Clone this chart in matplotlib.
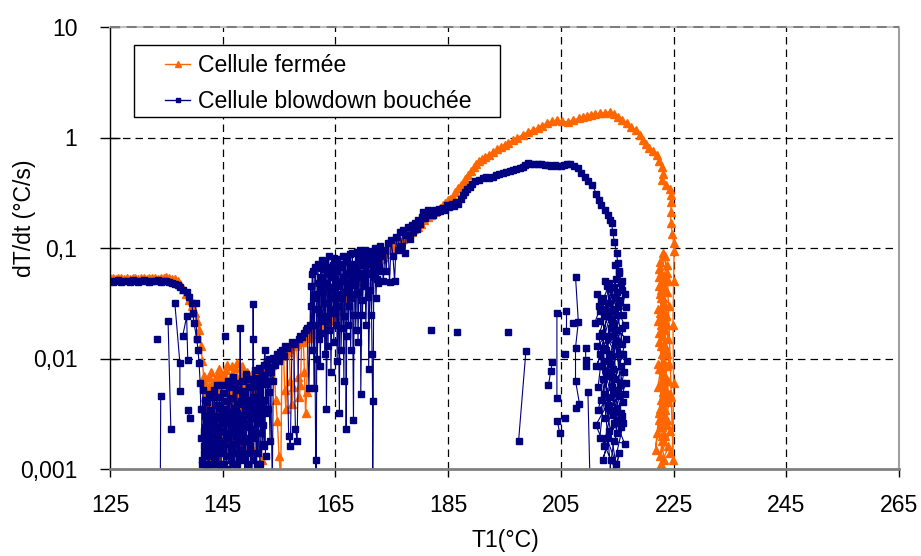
import numpy as np
import matplotlib
matplotlib.use("Agg")
import matplotlib.pyplot as plt
from matplotlib.lines import Line2D
from matplotlib.patches import Rectangle

plt.rcParams['font.family'] = ['Liberation Sans', 'DejaVu Sans']

# ---------------- data: Cellule fermée (orange) ----------------
ferm_flat = [(125.0,0.053),(125.5,0.054),(126.0,0.052),(126.5,0.053),(127.0,0.054),(127.5,0.052),
             (128.0,0.053),(128.5,0.052),(129.0,0.054),(129.5,0.053),(130.0,0.052),(130.5,0.053),
             (131.0,0.054),(131.5,0.052),(132.0,0.053),(132.5,0.054),(133.0,0.053),(133.5,0.052),
             (134.0,0.054),(134.5,0.053),(135.0,0.055),(135.5,0.053),(136.0,0.052),(136.5,0.052)]
ferm_drop = [(137.0,0.050),(137.5,0.047),(138.0,0.043),(138.5,0.038),(139.0,0.034),(139.5,0.030),
             (140.0,0.026),(140.4,0.022),(140.8,0.018),(141.1,0.013),(141.4,0.0095),(141.6,0.007)]
ferm_cloud = [(141.8,0.0045),(142.0,0.0015),(142.2,0.003),(142.4,0.0008),(142.5,0.0025),(142.7,0.0052),
              (142.9,0.0012),(143.1,0.0036),(143.2,0.002),(143.4,0.0062),(143.6,0.0009),(143.8,0.0041),
              (144.0,0.0018),(144.1,0.0072),(144.3,0.0012),(144.5,0.0031),(144.7,0.0066),(144.9,0.0022),
              (145.0,0.0046),(145.2,0.0007),(145.4,0.0038),(145.6,0.0078),(145.8,0.0025),(146.0,0.0051),
              (146.1,0.0015),(146.3,0.0043),(146.5,0.0028),(146.7,0.0085),(146.9,0.0018),(147.0,0.0048),
              (147.2,0.0009),(147.4,0.0035),(147.6,0.0092),(147.8,0.0024),(147.9,0.0056),(148.1,0.0014),
              (148.3,0.0041),(148.5,0.0068),(148.7,0.003),(148.9,0.0055),(149.0,0.0006),(149.2,0.0045),
              (149.4,0.0072),(149.6,0.0035),(149.8,0.006),(150.0,0.0016),(150.2,0.0049),(150.4,0.0076),
              (150.6,0.004),(150.7,0.0065),(150.9,0.0008),(151.1,0.0058),(151.3,0.0079),(151.5,0.0045),
              (151.7,0.0069),(151.9,0.0012),(152.1,0.0075),(152.3,0.0083),(152.6,0.0062),(152.9,0.0086),
              (153.2,0.0092)]
ferm_cloud_b = [(141.7,0.0062),(141.9,0.0035),(142.1,0.0055),(142.3,0.0022),(142.6,0.0068),(142.8,0.0040),
                (143.0,0.0075),(143.3,0.0030),(143.5,0.0058),(143.7,0.0020),(143.9,0.0065),(144.2,0.0045),
                (144.4,0.0080),(144.6,0.0035),(144.8,0.0058),(145.1,0.0026),(145.3,0.0070),(145.5,0.0048),
                (145.7,0.0088),(145.9,0.0038),(146.2,0.0062),(146.4,0.0030),(146.6,0.0072),(146.8,0.0050),
                (147.1,0.0082),(147.3,0.0042),(147.5,0.0064),(147.7,0.0028),(148.0,0.0070),(148.2,0.0052),
                (148.4,0.0085),(148.6,0.0038),(148.8,0.0060),(149.1,0.0032),(149.3,0.0075),(149.5,0.0050)]
ferm_rise = [(153.5,0.0095),(153.8,0.0088),(154.1,0.0098),(154.4,0.0042),(154.7,0.0027),(155.0,0.0013),
             (155.3,0.0008),(155.5,0.0105),(155.8,0.0110),(156.0,0.0052),(156.2,0.0035),(156.5,0.0115),
             (156.8,0.0122),(157.0,0.0062),(157.3,0.0039),(157.5,0.0055),(157.8,0.0130),(158.1,0.0135),
             (158.4,0.0068),(158.6,0.0045),(158.8,0.0058),(159.0,0.0140),(159.3,0.0148),(159.5,0.0075),
             (159.7,0.0032),(159.9,0.0050),(160.1,0.0152),(160.4,0.0160),(160.7,0.0165),(161.0,0.0172),
             (161.3,0.0180),(161.6,0.0178),(161.9,0.0188),(162.2,0.0195),(162.5,0.0200),(162.8,0.0205),
             (163.1,0.0212),(163.4,0.0215),(163.7,0.0220),(164.0,0.0225),(164.3,0.0235),(164.6,0.0240)]
ferm_upper = [(165.0,0.025),(165.5,0.027),(166.0,0.030),(166.5,0.034),(167.0,0.037),(167.5,0.040),
              (168.0,0.043),(168.5,0.046),(169.0,0.049),(169.5,0.053),(170.0,0.057),(170.5,0.061),
              (171.0,0.066),(171.5,0.071),(172.0,0.075),(172.5,0.079),(173.0,0.080),(173.4,0.083),
              (173.8,0.089),(174.2,0.095),(174.6,0.10),(175.0,0.104),(175.5,0.108),(176.0,0.112),
              (176.5,0.116),(177.0,0.12),(177.5,0.128),(178.0,0.135),(178.5,0.141),(179.0,0.148),
              (179.6,0.155),(180.2,0.165),(180.8,0.178),(181.4,0.19),(182.0,0.2),(182.6,0.212),
              (183.1,0.222),(183.5,0.23),(184.0,0.245),(184.5,0.258),(185.0,0.27),(185.4,0.28),
              (185.8,0.29),(186.3,0.32),(186.8,0.35),(187.2,0.37),(187.6,0.39),(188.0,0.42),
              (188.5,0.46),(189.0,0.50),(189.5,0.54),(190.0,0.58),(190.5,0.61),(191.0,0.64),
              (191.5,0.667),(192.2,0.70),(192.9,0.74),(193.6,0.78),(194.3,0.82),(195.0,0.86),
              (195.7,0.90),(196.5,0.95),(197.3,1.0),(198.2,1.06),(199.1,1.12),(200.0,1.17),
              (200.9,1.22),(201.7,1.28),(202.5,1.35),(203.4,1.40),(204.3,1.44),(205.2,1.40),
              (206.2,1.38),(207.2,1.44),(208.3,1.50),(209.0,1.53),(209.7,1.56),(210.4,1.60),
              (211.0,1.63),(211.9,1.65),(212.8,1.68),(213.7,1.70),(214.4,1.62),(215.1,1.53),
              (215.9,1.44),(216.7,1.35),(217.5,1.25),(218.4,1.17),(219.0,1.05),(219.5,0.95),
              (220.1,0.88),(220.7,0.81),(221.3,0.75),(222.0,0.69),(222.5,0.61),(223.0,0.54),
              (223.1,0.47),(223.0,0.41),(223.6,0.37),(224.3,0.34),(224.6,0.30),(224.6,0.26),
              (224.5,0.21),(224.5,0.17),(224.8,0.135),(225.0,0.11),(225.1,0.094)]
ferm_cluster = [(225.0,0.05),(224.9,0.02),(225.0,0.006),(224.9,0.0012),(224.6,0.0045),(223.9,0.06),
                (223.2,0.09),(222.6,0.075),(223.8,0.04),(222.9,0.05),(223.5,0.03),(222.4,0.065),
                (223.9,0.02),(223.1,0.045),(222.7,0.035),(223.6,0.025),(222.5,0.055),(224.1,0.015),
                (223.0,0.03),(222.8,0.042),(223.4,0.018),(222.3,0.028),(223.7,0.012),(223.2,0.022),
                (222.6,0.038),(224.2,0.009),(223.0,0.016),(222.9,0.025),(223.5,0.007),(222.4,0.014),
                (223.8,0.011),(223.1,0.006),(222.7,0.02),(223.3,0.0045),(222.2,0.009),(224.0,0.004),
                (223.6,0.0065),(222.8,0.013),(223.1,0.003),(222.5,0.008),(223.9,0.0025),(223.2,0.005),
                (222.6,0.0035),(223.4,0.002),(222.9,0.006),(221.8,0.0015),(222.5,0.0028),(223.3,0.0012),
                (222.1,0.0009),(224.1,0.0016),(223.0,0.002),(222.7,0.0011),(224.3,0.0014)]
ferm_cluster_b = [(223.5,0.085),(222.8,0.06),(223.9,0.07),(222.5,0.045),(223.2,0.035),(224.0,0.05),
                  (222.3,0.022),(223.6,0.055),(222.9,0.018),(223.3,0.04),(222.6,0.026),(224.2,0.03),
                  (223.0,0.011),(222.4,0.017),(223.7,0.024),(222.8,0.008),(223.4,0.013),(222.2,0.0055),
                  (223.9,0.0085),(222.7,0.0042),(223.2,0.0095),(222.5,0.0032),(223.6,0.0052),(222.9,0.0024),
                  (224.1,0.0062),(223.0,0.0018),(222.6,0.0013),(224.4,0.0022),(223.5,0.0034),(222.1,0.0021),
                  (224.3,0.0048),(223.8,0.0028)]

# ---------------- data: Cellule blowdown bouchée (navy) ----------------
blow_flat = [(125.0,0.050),(125.5,0.049),(126.0,0.050),(126.5,0.051),(127.0,0.049),(127.5,0.050),
             (128.0,0.050),(128.5,0.049),(129.0,0.051),(129.5,0.050),(130.0,0.049),(130.5,0.050),
             (131.0,0.051),(131.5,0.050),(132.0,0.049),(132.5,0.050),(133.0,0.050),(133.5,0.051),
             (134.0,0.049),(134.5,0.050),(135.0,0.050),(135.5,0.049),(136.0,0.048)]
blow_drop = [(136.5,0.047),(137.0,0.046),(137.5,0.044),(138.0,0.042),(138.6,0.040),(139.0,0.036),
             (139.5,0.032),(139.7,0.026),(139.9,0.021),(140.4,0.015),(140.6,0.012),(140.8,0.0092),
             (141.0,0.006),(141.1,0.0035)]
blow_cloud = [(141.3,0.0035),(141.4,0.0012),(141.6,0.0022),(141.8,0.0006),(141.9,0.0042),(142.1,0.0015),
              (142.3,0.0028),(142.4,0.0009),(142.6,0.0048),(142.8,0.0018),(143.0,0.0032),(143.1,0.0007),
              (143.3,0.0025),(143.5,0.0052),(143.7,0.0013),(143.9,0.0038),(144.0,0.0021),(144.2,0.0009),
              (144.4,0.0045),(144.6,0.0016),(144.8,0.0058),(145.0,0.0027),(145.2,0.0011),(145.5,0.0035),
              (145.7,0.0019),(145.9,0.0062),(146.1,0.0030),(146.3,0.0008),(146.5,0.0044),(146.7,0.0024),
              (146.9,0.0068),(147.1,0.0036),(147.3,0.0014),(147.5,0.0052),(147.7,0.0029),(147.9,0.0007),
              (148.1,0.019),(148.2,0.0041),(148.4,0.0063),(148.6,0.0022),(148.8,0.0048),(149.0,0.0012),
              (149.2,0.0072),(149.4,0.0038),(149.6,0.0055),(149.8,0.0019),(150.0,0.0065),(150.2,0.0009),
              (150.4,0.031),(150.45,0.015),(150.5,0.0045),(150.7,0.0078),(150.9,0.0033),(151.1,0.0058),
              (151.3,0.0014),(151.5,0.0082),(151.7,0.0048),(151.9,0.0068),(152.1,0.0025),(152.3,0.0088),
              (152.5,0.012),(152.7,0.0062),(152.9,0.0090),(153.1,0.0035),(153.3,0.0098),(153.5,0.0075),
              (153.8,0.0007),(154.0,0.0102),(154.3,0.0088),(154.6,0.011),(154.9,0.0095),(155.2,0.0115),
              (155.5,0.012),(155.8,0.0105),(156.1,0.013),(156.4,0.0125),(156.7,0.0020),(157.0,0.0016),
              (157.3,0.014),(157.6,0.0135),(157.9,0.0023),(158.2,0.0018),(158.5,0.015),(158.8,0.016),
              (159.1,0.0155),(159.4,0.017),(159.7,0.018),(160.0,0.019),(160.3,0.0054),(160.5,0.020)]
blow_cloud_b = [(141.2,0.0019),(141.5,0.0052),(141.7,0.0014),(141.9,0.0030),(142.0,0.0010),(142.2,0.0040),
                (142.4,0.0021),(142.5,0.0013),(142.7,0.0034),(142.9,0.0026),(143.0,0.0016),(143.2,0.0045),
                (143.4,0.0011),(143.6,0.0029),(143.8,0.0019),(143.9,0.0058),(144.1,0.0024),(144.3,0.0015),
                (144.5,0.0036),(144.7,0.0010),(144.9,0.0031),(145.1,0.0049),(145.3,0.0017),(145.5,0.0026),
                (145.6,0.0013),(145.8,0.0041),(146.0,0.0021),(146.2,0.0055),(146.4,0.0012),(146.6,0.0033),
                (146.8,0.0017),(147.0,0.0027),(147.2,0.0060),(147.4,0.0020),(147.6,0.0011),(147.8,0.0039),
                (148.0,0.0025),(148.3,0.0015),(148.5,0.0051),(148.7,0.0031),(148.9,0.0009),(149.1,0.0042),
                (149.3,0.0026),(149.5,0.0065),(149.7,0.0014),(149.9,0.0037),(150.1,0.0023),(150.3,0.0056),
                (150.6,0.0019),(150.8,0.0044),(151.0,0.0011),(151.2,0.0066),(151.4,0.0030),(151.6,0.0053),
                (151.8,0.0021),(152.0,0.0071),(152.2,0.0040),(152.4,0.0016),(152.6,0.0059),(152.8,0.0032),
                (153.0,0.0075),(153.2,0.0050),(153.4,0.0018),(153.6,0.0084),(153.9,0.0062)]
blow_cloud_c = [(141.3,0.0011),(141.6,0.0016),(141.8,0.0024),(142.0,0.0013),(142.3,0.0019),(142.6,0.0011),
                (142.8,0.0027),(143.1,0.0015),(143.3,0.0021),(143.6,0.0012),(143.8,0.0017),(144.1,0.0030),
                (144.3,0.0011),(144.6,0.0022),(144.8,0.0014),(145.1,0.0018),(145.4,0.0026),(145.6,0.0010),
                (145.9,0.0020),(146.1,0.0013),(146.4,0.0029),(146.6,0.0015),(146.9,0.0011),(147.1,0.0023),
                (147.4,0.0017),(147.6,0.0032),(147.9,0.0012),(148.1,0.0020),(148.4,0.0026),(148.6,0.0013),
                (148.9,0.0018),(149.1,0.0034),(149.4,0.0011),(149.6,0.0024),(149.9,0.0016),(150.1,0.0029),
                (150.4,0.0012),(150.6,0.0021),(150.9,0.0038),(151.1,0.0014),(151.4,0.0026),(151.6,0.0011),
                (151.9,0.0032),(152.1,0.0017),(152.4,0.0042),(152.6,0.0013)]
blow_bigcloud = [(160.6,0.045),(160.8,0.012),(161.0,0.062),(161.2,0.0054),(161.3,0.038),(161.5,0.0012),
                 (161.6,0.0005),(161.7,0.028),(161.9,0.072),(162.0,0.015),(162.2,0.055),(162.3,0.0085),
                 (162.5,0.040),(162.6,0.078),(162.8,0.022),(163.0,0.065),(163.1,0.011),(163.3,0.048),
                 (163.4,0.0035),(163.6,0.032),(163.8,0.085),(163.9,0.018),(164.1,0.058),(164.2,0.0075),
                 (164.4,0.042),(164.6,0.070),(164.7,0.014),(164.9,0.052),(165.0,0.026),(165.2,0.080),
                 (165.3,0.0095),(165.5,0.045),(165.7,0.0032),(165.8,0.035),(166.0,0.068),(166.1,0.019),
                 (166.3,0.055),(166.5,0.0062),(166.6,0.040),(166.8,0.075),(166.9,0.0023),(167.0,0.016),
                 (167.2,0.060),(167.4,0.030),(167.5,0.088),(167.7,0.012),(167.9,0.050),(168.0,0.072),
                 (168.2,0.0028),(168.3,0.025),(168.5,0.065),(168.7,0.038),(168.9,0.092),(169.0,0.014),
                 (169.2,0.055),(169.4,0.078),(169.5,0.0048),(169.7,0.034),(169.9,0.070),(170.1,0.045),
                 (170.2,0.095),(170.4,0.020),(170.6,0.060),(170.8,0.082),(170.9,0.008),(171.1,0.042),
                 (171.3,0.072),(171.5,0.0109),(171.6,0.0041),(171.6,0.0004),(171.8,0.055),(172.0,0.090),
                 (172.2,0.035),(172.4,0.075),(172.6,0.048),(172.8,0.098),(173.0,0.062)]
blow_bigcloud_b = [(160.7,0.030),(160.9,0.058),(161.1,0.020),(161.4,0.068),(161.6,0.035),(161.8,0.010),
                   (162.0,0.048),(162.1,0.026),(162.4,0.066),(162.5,0.017),(162.7,0.052),(162.9,0.032),
                   (163.1,0.075),(163.2,0.024),(163.5,0.060),(163.7,0.013),(163.8,0.044),(164.0,0.068),
                   (164.3,0.028),(164.5,0.055),(164.7,0.035),(164.8,0.082),(165.1,0.020),(165.3,0.062),
                   (165.5,0.030),(165.6,0.072),(165.9,0.050),(166.0,0.012),(166.2,0.038),(166.4,0.085),
                   (166.6,0.024),(166.8,0.058),(167.0,0.042),(167.1,0.078),(167.3,0.020),(167.6,0.065),
                   (167.8,0.035),(168.0,0.090),(168.1,0.046),(168.4,0.070),(168.6,0.018),(168.8,0.058),
                   (169.0,0.082),(169.1,0.040),(169.3,0.095),(169.6,0.060),(169.8,0.025),(170.0,0.085),
                   (170.3,0.050),(170.5,0.078),(170.7,0.036),(171.0,0.094),(171.2,0.058),(171.4,0.025),
                   (171.7,0.080),(171.9,0.062),(172.1,0.100),(172.3,0.052),(172.5,0.088),(172.7,0.068),
                   (172.9,0.105)]
blow_band = [(173.2,0.085),(173.5,0.05),(173.8,0.095),(174.0,0.062),(174.3,0.11),(174.6,0.049),
             (174.9,0.118),(175.2,0.085),(175.5,0.05),(175.8,0.125),(176.1,0.095),(176.4,0.14),
             (176.7,0.105),(177.0,0.145),(177.3,0.09),(177.6,0.13),(177.9,0.155),(178.2,0.12),
             (178.5,0.16),(178.8,0.14),(179.1,0.17),(179.4,0.15),(179.7,0.18),(180.0,0.165),
             (180.3,0.19),(180.6,0.21),(180.9,0.185),(181.2,0.2),(181.5,0.22),(181.8,0.205),
             (182.1,0.215),(182.4,0.2),(182.7,0.22),(183.0,0.21),(183.3,0.225),(183.6,0.215),
             (184.0,0.23),(184.4,0.22),(184.8,0.245),(185.2,0.235),(185.6,0.25),(186.0,0.24),
             (186.4,0.26),(186.8,0.25),(187.2,0.28),(187.6,0.3),(188.0,0.32),(188.4,0.34),
             (188.8,0.36),(189.3,0.38),(189.8,0.40),(190.4,0.41),(191.1,0.43),(191.7,0.44),
             (192.3,0.43),(192.9,0.44),(193.5,0.46),(194.1,0.47),(194.7,0.48),(195.3,0.49),
             (195.9,0.50),(196.5,0.51),(197.1,0.52),(197.7,0.53),(198.2,0.54),(198.7,0.56),
             (199.1,0.59),(199.6,0.58),(200.3,0.57),(200.9,0.58),(201.5,0.57),(202.1,0.56),
             (202.7,0.56),(203.3,0.55),(203.9,0.56),(204.4,0.55),(205.0,0.55),(205.6,0.56),
             (206.1,0.57),(206.6,0.58),(207.3,0.55),(208.0,0.53),(208.6,0.48),(209.2,0.44),
             (209.9,0.40),(210.6,0.37),(211.3,0.31),(211.8,0.27),(212.2,0.245),(212.8,0.22),
             (213.3,0.2),(213.7,0.18),(214.0,0.17),(214.2,0.14),(214.5,0.113),(214.9,0.09),
             (215.1,0.073),(215.4,0.06),(215.6,0.048)]
blow_cluster = [(215.8,0.042),(214.5,0.028),(212.5,0.035),(215.0,0.018),(213.2,0.045),(216.0,0.025),
                (212.0,0.022),(214.8,0.052),(213.0,0.012),(215.5,0.034),(211.8,0.03),(214.2,0.008),
                (216.3,0.02),(212.8,0.05),(215.2,0.014),(213.5,0.024),(211.5,0.038),(214.6,0.0065),
                (216.0,0.011),(212.3,0.017),(215.0,0.04),(213.8,0.0045),(216.6,0.015),(212.0,0.027),
                (214.3,0.021),(215.6,0.0085),(211.6,0.0055),(213.4,0.032),(215.9,0.006),(212.7,0.0095),
                (214.9,0.0035),(216.2,0.0075),(213.1,0.016),(211.4,0.013),(215.3,0.0028),(214.0,0.0105),
                (212.2,0.0042),(216.4,0.0048),(213.6,0.0022),(215.7,0.0032),(212.6,0.0016),(214.7,0.0052),
                (211.2,0.0025),(213.9,0.0012),(215.1,0.0009),(212.9,0.0005),(214.4,0.0018),(216.1,0.0026),
                (213.3,0.0006),(215.4,0.0014),(214.1,0.0007),(212.4,0.0065),(213.7,0.009),(215.8,0.019),
                (211.9,0.011),(214.6,0.036),(216.5,0.029),(212.9,0.024),(215.3,0.062)]
blow_cluster_b = [(211.0,0.021),(213.6,0.048),(215.7,0.011),(212.1,0.033),(214.9,0.025),(216.4,0.038),
                  (213.0,0.0075),(211.7,0.016),(214.4,0.044),(215.9,0.0135),(212.8,0.028),(213.9,0.019),
                  (211.3,0.0085),(215.2,0.030),(214.1,0.0055),(216.7,0.0095),(212.5,0.0125),(213.4,0.0038),
                  (215.5,0.0058),(211.6,0.0034),(214.7,0.0145),(216.0,0.0040),(212.9,0.0029),(213.8,0.0070),
                  (215.0,0.0021),(212.2,0.0085),(214.3,0.0031),(216.3,0.0017),(211.9,0.0019),(213.5,0.0110),
                  (215.6,0.0024),(212.7,0.0048),(214.8,0.0011),(213.2,0.0019),(215.9,0.0030),(214.5,0.0026),
                  (212.4,0.0012),(216.5,0.0060),(213.7,0.0034),(215.3,0.0046),(214.0,0.0160),(215.8,0.0500),
                  (214.6,0.0700)]
# isolated / short noisy excursions of the blowdown run
blow_spikes = [
    [(133.3,0.015)],
    [(134.0,0.0046),(133.9,0.0004)],
    [(135.3,0.022),(135.8,0.0023)],
    [(136.5,0.032),(137.4,0.0091),(137.4,0.0051)],
    [(137.9,0.016),(138.6,0.024),(138.8,0.0097)],
    [(138.8,0.0034),(139.2,0.0029)],
    [(140.2,0.032),(140.4,0.015)],
    [(145.4,0.016)],
    [(182.0,0.018)],
    [(186.5,0.0174)],
    [(195.6,0.0173)],
    [(198.8,0.0117),(197.5,0.0018)],
    [(204.3,0.026),(204.3,0.0044)],
    [(202.8,0.0057),(203.2,0.0077),(203.5,0.0093)],
    [(204.4,0.0027),(204.8,0.0021)],
    [(206.0,0.027),(206.0,0.0178)],
    [(207.6,0.055),(208.1,0.0215),(207.6,0.0125),(207.6,0.0063),(208.3,0.0039)],
    [(207.6,0.0036)],
    [(207.1,0.021)],
    [(209.4,0.0125),(209.4,0.0096),(209.4,0.0085)],
    [(209.8,0.005),(210.3,0.0004)],
    [(205.7,0.0029)],
    [(205.7,0.011)],
]

x_ticks = [125, 145, 165, 185, 205, 225, 245, 265]
y_ticks = [0.001, 0.01, 0.1, 1, 10]
y_tick_labels = ['0,001', '0,01', '0,1', '1', '10']
series_labels = ['Cellule fermée', 'Cellule blowdown bouchée']


def joined(*segs):
    pts = [p for s in segs for p in s]
    return np.array([p[0] for p in pts]), np.array([p[1] for p in pts])


def with_gaps(segs):
    T, V = [], []
    for i, s in enumerate(segs):
        if i:
            T.append(np.nan); V.append(np.nan)
        T.extend(p[0] for p in s); V.extend(p[1] for p in s)
    return np.array(T), np.array(V)


ORANGE = '#FF6600'
NAVY = '#000080'
FS = 16.6
o_style = dict(color=ORANGE, lw=1.0, marker='^', ms=6, mec=ORANGE, mfc=ORANGE)
n_style = dict(color=NAVY, lw=0.8, marker='s', ms=4.6, mec=NAVY, mfc=NAVY)

fig = plt.figure(figsize=(9.21, 5.56), dpi=100)
ax = fig.add_axes([110/921, 1-469/556, (899-110)/921, (469-27)/556])
ax.set_yscale('log')
ax.set_xlim(125, 265)
ax.set_ylim(0.001, 10)

# grid
grid_style = dict(color='black', lw=0.9, ls=(0, (6, 4)), zorder=0.5)
for xv in x_ticks[1:-1]:
    ax.axvline(xv, **grid_style)
for yv in y_ticks[1:-1]:
    ax.axhline(yv, **grid_style)
ax.axhline(y_ticks[-1], color='#707070', lw=1.2, ls=(0, (6, 4)), zorder=3, clip_on=False)

# orange series (Cellule fermée)
oT, oV = joined(ferm_flat, ferm_drop, ferm_cloud, ferm_rise, ferm_upper, ferm_cluster)
ax.plot(oT, oV, zorder=2, **o_style)
obT, obV = with_gaps([ferm_cloud_b, ferm_cluster_b])
ax.plot(obT, obV, zorder=2, **o_style)

# navy series (Cellule blowdown bouchée)
nT, nV = joined(blow_flat, blow_drop, blow_cloud, blow_bigcloud, blow_band, blow_cluster)
ax.plot(nT, nV, zorder=2.2, **n_style)
sT, sV = with_gaps(blow_spikes + [blow_cloud_b, blow_cloud_c, blow_bigcloud_b, blow_cluster_b])
ax.plot(sT, sV, zorder=2.2, **n_style)

# spines
ax.spines['left'].set_color('black'); ax.spines['left'].set_linewidth(1.0)
ax.spines['bottom'].set_color('#808080'); ax.spines['bottom'].set_linewidth(2.0)
ax.spines['top'].set_color('#c0c0c0'); ax.spines['top'].set_linewidth(1.5)
ax.spines['right'].set_color('#a0a0a0'); ax.spines['right'].set_linewidth(1.5)

ax.set_xticks(x_ticks)
ax.set_xticklabels([str(v) for v in x_ticks])
ax.set_yticks(y_ticks)
ax.set_yticklabels(y_tick_labels)
ax.minorticks_off()
ax.tick_params(axis='y', direction='inout', length=15, width=1, color='black', pad=16,
               labelsize=FS, labelcolor='black')
ax.tick_params(axis='x', direction='out', length=6, width=1, color='black', pad=12,
               labelsize=FS, labelcolor='black')

fig.text(505/921, 1-541/556, 'T1(°C)', ha='center', va='center', fontsize=FS)
fig.text(24/921, 1-218/556, 'dT/dt (°C/s)', ha='center', va='center', fontsize=FS, rotation=90)

# legend box
rect = Rectangle((134/921, 1-117/556), (500-134)/921, (117-45)/556, transform=fig.transFigure,
                 facecolor='white', edgecolor='black', lw=1.0, zorder=4)
fig.add_artist(rect)
handles = [Line2D([], [], color=ORANGE, lw=1.0, marker='^', ms=4.5, mec=ORANGE, mfc=ORANGE),
           Line2D([], [], color=NAVY, lw=1.0, marker='s', ms=3.5, mec=NAVY, mfc=NAVY)]
leg = fig.legend(handles, series_labels, loc='upper left', bbox_to_anchor=(165/921, 1-54/556),
                 bbox_transform=fig.transFigure, frameon=False, fontsize=FS, borderpad=0,
                 borderaxespad=0, handlelength=1.1, handletextpad=0.32, labelspacing=0.55)
leg.set_zorder(5)

fig.savefig('out.png', dpi=100)
